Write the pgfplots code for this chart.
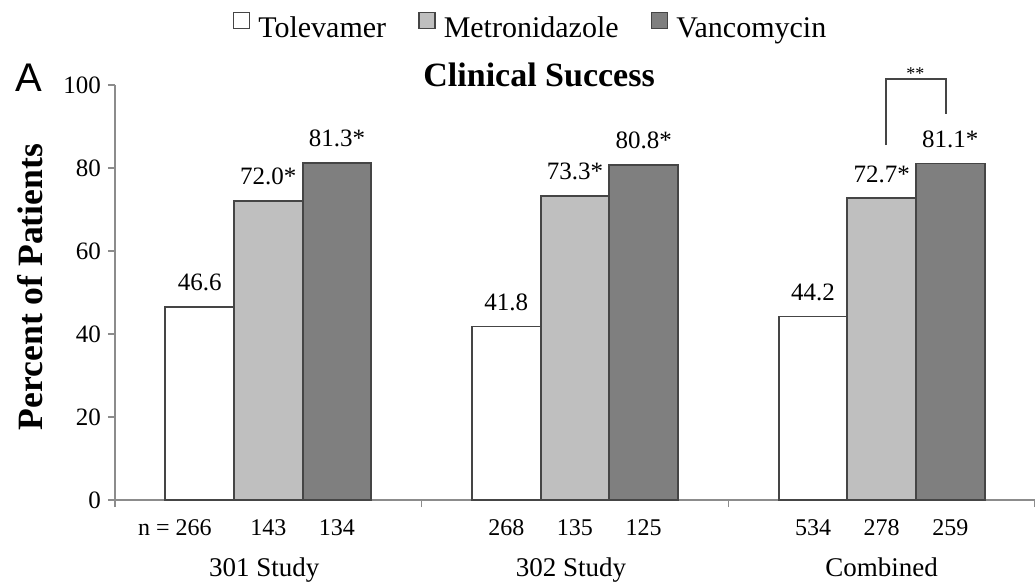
\documentclass[border=0pt]{standalone}
\usepackage{pgfplots}
\pgfplotsset{compat=1.18}
\usepackage{fontspec}
\setmainfont{Liberation Serif}
\newfontfamily\sansA{Liberation Sans}
\definecolor{barEdge}{HTML}{454545}
\definecolor{lightBar}{HTML}{BFBFBF}
\definecolor{darkBar}{HTML}{7F7F7F}
\definecolor{axisGrey}{HTML}{8C8C8C}
\pgfplotsset{
  mylegend/.style={legend image code/.code={\draw[##1,line width=0.8pt] (0pt,0pt) rectangle (8pt,8pt);}},
  vallabel/.style={nodes near coords, point meta=explicit symbolic,
    nodes near coords style={font=\fontsize{12.5}{15}\selectfont, inner sep=0pt, anchor=south, yshift=7.5pt, xshift=#1, text=black}},
}
\begin{document}
\begin{tikzpicture}
\path[use as bounding box] (-57.5pt,-42pt) rectangle (460pt,250pt);
\begin{axis}[
  scale only axis,
  width=460pt, height=207.5pt,
  at={(0pt,0pt)}, anchor=south west,
  xmin=-0.5, xmax=2.5, ymin=0, ymax=100,
  axis lines*=left,
  axis line style={draw=axisGrey, line width=0.8pt},
  tick style={draw=axisGrey, line width=0.8pt},
  tick align=outside,
  major tick length=3.5pt,
  xtick={-0.5,0.5,1.5,2.5},
  xticklabels={},
  ytick={0,20,40,60,80,100},
  /pgf/number format/assume math mode=true,
  yticklabel style={font=\fontsize{12.5}{15}\selectfont},
  ylabel={\textbf{Percent of Patients}},
  ylabel style={at={(axis description cs:-0.0924,0.513)}, anchor=center, font=\fontsize{17.8}{20}\selectfont},
  title={\textbf{Clinical Success}},
  title style={at={(axis description cs:0.461,0.9952)}, anchor=base, yshift=-6pt, font=\fontsize{17}{20}\selectfont},
  clip=false,
  legend columns=3,
  legend style={at={(axis description cs:0.4527,1.137)}, anchor=center, draw=none, fill=none,
    font=\fontsize{15}{18}\selectfont,
    /tikz/every even column/.append style={column sep=14pt},
    /tikz/every odd column/.append style={column sep=2pt}},
]
\addplot[ybar, bar width=34.35pt, bar shift=-34.35pt, fill=white, draw=barEdge, line width=0.9pt, mylegend, vallabel=-34.35pt]
  coordinates {(0,46.6)[46.6] (1,41.8)[41.8] (2,44.2)[44.2]};
\addlegendentry{Tolevamer}
\addplot[ybar, bar width=34.35pt, bar shift=0pt, fill=lightBar, draw=barEdge, line width=0.9pt, mylegend, vallabel=0pt]
  coordinates {(0,72.0)[72.0*] (1,73.3)[73.3*] (2,72.7)[72.7*]};
\addlegendentry{Metronidazole}
\addplot[ybar, bar width=34.35pt, bar shift=34.35pt, fill=darkBar, draw=barEdge, line width=0.9pt, mylegend, vallabel=34.35pt]
  coordinates {(0,81.3)[81.3*] (1,80.8)[80.8*] (2,81.1)[81.1*]};
\addlegendentry{Vancomycin}

% significance bracket
\draw[draw=barEdge, line width=1pt] (axis cs:2.013,85.5) |- (axis cs:2.21,101.4) -- (axis cs:2.21,93.0);
\node[anchor=base, font=\fontsize{9}{11}\selectfont] at (axis cs:2.11,101.3) {**};

% sample sizes
\node[anchor=base, font=\fontsize{12}{14}\selectfont, yshift=-17.5pt, xshift=-3pt] at (axis cs:-0.2237,0) {\llap{n = }266};
\node[anchor=base, font=\fontsize{12}{14}\selectfont, yshift=-17.5pt] at (axis cs:0,0) {143};
\node[anchor=base, font=\fontsize{12}{14}\selectfont, yshift=-17.5pt] at (axis cs:0.2237,0) {134};
\node[anchor=base, font=\fontsize{12}{14}\selectfont, yshift=-17.5pt] at (axis cs:0.7763,0) {268};
\node[anchor=base, font=\fontsize{12}{14}\selectfont, yshift=-17.5pt] at (axis cs:1,0) {135};
\node[anchor=base, font=\fontsize{12}{14}\selectfont, yshift=-17.5pt] at (axis cs:1.2237,0) {125};
\node[anchor=base, font=\fontsize{12}{14}\selectfont, yshift=-17.5pt] at (axis cs:1.7763,0) {534};
\node[anchor=base, font=\fontsize{12}{14}\selectfont, yshift=-17.5pt] at (axis cs:2,0) {278};
\node[anchor=base, font=\fontsize{12}{14}\selectfont, yshift=-17.5pt] at (axis cs:2.2237,0) {259};
% group names
\node[anchor=base, font=\fontsize{13.5}{16}\selectfont, yshift=-38pt, xshift=-2pt] at (axis cs:0,0) {301 Study};
\node[anchor=base, font=\fontsize{13.5}{16}\selectfont, yshift=-38pt, xshift=-2pt] at (axis cs:1,0) {302 Study};
\node[anchor=base, font=\fontsize{13.5}{16}\selectfont, yshift=-38pt] at (axis cs:2,0) {Combined};
\end{axis}
\node[anchor=base, font=\sansA\fontsize{20}{24}\selectfont] at (-43pt,204pt) {A};
\end{tikzpicture}
\end{document}
